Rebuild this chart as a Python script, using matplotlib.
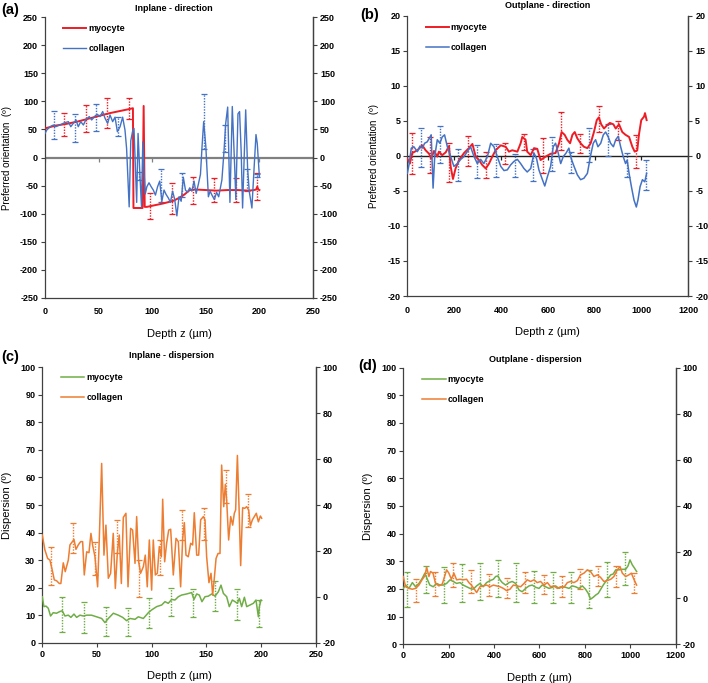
import matplotlib
matplotlib.use("Agg")
import matplotlib.pyplot as plt
import numpy as np

plt.rcParams["font.family"] = ["Liberation Sans", "DejaVu Sans"]
plt.rcParams["font.weight"] = "bold"
plt.rcParams["axes.unicode_minus"] = False

RED = "#EE1C25"
BLUE = "#4472C4"
GREEN = "#70AD47"
ORANGE = "#ED7D31"
AXC = "#404040"

# ---------------- (a) Inplane - direction ----------------
a_myo_x = [0, 2, 10, 20, 30, 40, 50, 60, 70, 80, 82, 82.5, 91, 92, 93, 95, 100, 110, 120,
           125, 130, 135, 140, 150, 160, 170, 180, 190, 195, 197, 198, 199, 200]
a_myo_y = [52, 53, 57, 60, 64, 69, 74, 79, 83, 87, 88, -90, -90, 92, -88, -88, -86, -82, -77,
           -72, -66, -58, -57, -58, -59, -58, -58, -59, -58, -57, -52, -57, -58]
a_col_x = [0, 1.6, 4.7, 7.8, 10, 12.4, 15, 17, 20, 21.8, 24, 26.4, 28.9, 31, 33.3, 35.8, 38.2,
           41.3, 43.5, 46.6, 48.8, 51.3, 53.8, 56, 58.4, 60.6, 63.1, 65.3, 67.5, 70, 72.4, 74.6,
           76.1, 78.5, 80, 81.6, 83, 85.5, 86.8, 88.5, 90, 91.2, 92.5, 93.5, 95, 97, 99, 101,
           103, 105, 107, 109, 111, 113, 115, 117, 119, 121, 123, 125, 127, 129, 131, 133, 135,
           137, 139, 141, 143, 145, 146.5, 148, 150, 152.4, 154, 156, 158, 160, 162, 163.5, 165,
           167, 168.5, 170.4, 172.5, 174.7, 177, 178, 180, 181.5, 183, 184.3, 187.2, 189, 190.5,
           193, 195, 196.8, 198, 200]
a_col_y = [43, 49, 55, 58, 55, 57, 59, 61, 63, 64, 55, 61, 67, 55, 64, 58, 68,
           73, 67, 74, 77, 73, 82, 70, 61, 76, 64, 72, 46, 55, 72, 49,
           16, -88, 30, 46, 52, -80, 43, -30, -88, 28, -30, -65, -52, -45, -52, -58,
           -67, -52, -42, -78, -58, -66, -72, -80, -60, -75, -104, -70, -78, -35, -58, -62, -54,
           -60, -42, -64, -48, -30, 20, 64, 20, -70, -60, -68, -75, -62, -70, -55, -40,
           12, 60, 90, -80, 91, -20, -75, 78, 82, 10, -90, 85, -20, -60,
           -90, -20, 41, 25, -35]
a_myo_ex = [18, 38, 58, 78, 98, 118, 138, 158, 178, 198]
a_myo_lo = [39, 45, 53, 69, -110, -100, -83, -80, -79, -75]
a_myo_hi = [80, 94, 107, 107, -64, -46, -34, -37, -37, -27]
a_col_ex = [8, 28, 48, 68, 88, 108, 128, 148, 168, 188, 198]
a_col_lo = [33, 27, 47, 38, -40, -80, -70, 15, 10, -60, -35]
a_col_hi = [83, 77, 95, 73, -25, -20, -27, 113, 58, -20, -30]

# ---------------- (b) Outplane - direction ----------------
b_myo_x = [0, 11, 21, 43, 64, 78, 93, 102, 114, 128, 135, 149, 164, 178, 185, 195, 206, 221,
           242, 263, 278, 292, 306, 320, 335, 349, 363, 377, 399, 420, 434, 448, 470, 484, 491,
           505, 512, 527, 541, 555, 569, 591, 612, 633, 648, 659, 672, 683, 695, 705, 715, 726,
           740, 754, 769, 783, 797, 809, 818, 828, 840, 854, 865, 880, 890, 904, 918, 932, 947,
           961, 971, 982, 989, 999, 1011, 1015, 1022]
b_myo_y = [-0.4, -1.1, 0.4, 0.8, 1.5, 0.8, 0.3, -0.4, 0.7, -0.1, 0.6, 0.1, 0.5, 1.4, -1.5, -3.3,
           -1.8, -0.6, 0.4, 1.1, 1.7, -0.1, -0.6, -1.3, -1.8, -1.1, -0.1, 0.8, 1.5, 1.3, 0.6, 0.8,
           0.6, 1.8, 2.7, 2.3, 0.6, 0.1, 1.1, 1.0, -0.6, -0.1, 0.3, 0.4, 1.8, 3.4, 3.0, 2.3, 1.8,
           3.0, 3.4, 2.5, 1.8, 1.3, 1.1, 1.8, 3.4, 5.1, 5.5, 4.5, 3.9, 4.4, 4.7, 4.5, 3.9, 4.5,
           3.4, 3.0, 2.7, 1.3, 0.6, 0.8, 3.0, 5.1, 5.6, 6.1, 5.1]
b_col_x = [0, 7, 17, 28, 43, 54, 64, 74, 85, 97, 102, 110, 117, 128, 139, 149, 159, 171, 185,
           199, 214, 228, 242, 256, 270, 285, 299, 313, 327, 342, 356, 370, 384, 399, 413, 427,
           441, 455, 470, 484, 498, 512, 527, 541, 552, 562, 577, 587, 598, 612, 623, 633, 643,
           655, 666, 678, 690, 700, 712, 726, 740, 754, 769, 783, 794, 804, 814, 826, 837, 847,
           858, 868, 880, 890, 901, 911, 922, 932, 939, 947, 957, 968, 978, 985, 994, 1004, 1014,
           1022]
b_col_y = [-2.5, -1.3, 1.1, 1.3, 0.6, 1.4, 1.1, 1.8, 2.0, 2.7, 3.0, -4.6, -0.1, 2.3, 1.8, 2.7,
           3.0, 1.3, -0.1, -1.5, -1.1, -0.5, -0.1, 0.6, 1.3, -0.1, -1.1, -0.5, -1.1, -0.1, 1.8,
           1.3, -0.1, -1.5, -2.1, -2.0, -1.3, -0.8, -0.5, -1.1, -1.8, -2.3, -1.8, 0.4, -0.4, -2.0,
           -3.4, -4.3, -3.0, -1.5, 1.3, 1.8, 0.6, -1.1, -0.1, 0.4, 1.1, -0.4, -1.5, -2.7, -3.4,
           -3.2, -2.5, 0.1, 1.8, 2.3, 1.3, 1.8, 3.0, 3.4, 2.7, 1.8, 1.3, 2.3, 2.8, 1.3, -0.1,
           -1.1, -0.6, -2.5, -4.4, -6.3, -7.3, -6.3, -4.4, -3.4, -3.7, -2.5]
b_myo_ex = [18, 98, 178, 258, 338, 418, 498, 578, 658, 738, 818, 898, 978]
b_myo_lo = [-2.6, -2.5, -3.7, -1.5, -3.2, -1.1, 0.8, -2.5, 0.8, 0.4, 3.4, 2.3, -1.8]
b_myo_hi = [3.3, 2.7, 1.8, 2.8, 0.6, 1.8, 3.1, 2.5, 6.2, 3.1, 7.1, 5.0, 3.0]
b_col_ex = [58, 138, 218, 298, 378, 458, 538, 618, 698, 778, 858, 938, 1018]
b_col_lo = [-1.6, -1.0, -3.6, -3.2, -3.0, -3.0, -3.6, -2.1, -2.5, -0.9, 0.0, -3.0, -4.9]
b_col_hi = [4.0, 4.2, 1.0, 1.6, 1.7, 0.3, 1.0, 2.7, 0.6, 4.0, 4.5, 0.4, -0.6]

# ---------------- (c) Inplane - dispersion ----------------
c_myo_x = [0, 1.5, 3.4, 5.5, 7.6, 10, 13, 16, 18.3, 20.7, 23.8, 26.2, 29, 31.4, 34.5, 37.5,
           40.6, 45, 49.7, 54.3, 57.3, 60.4, 65, 69.5, 73.5, 77.1, 80.2, 84.8, 87.8, 92.4, 97,
           100, 104.6, 109.2, 112.2, 115.2, 118.3, 121.3, 124.4, 127.4, 132, 136.6, 138.7, 141.2,
           143.6, 146, 148.8, 151.8, 154.9, 158, 161, 163.4, 165.6, 168.6, 171, 173.8, 176.2,
           178.4, 180.2, 182.3, 184.8, 186.9, 190, 193, 195.4, 197.6, 198.5, 200]
c_myo_y = [16.7, 13.1, 13.3, 12.5, 9.7, 10.9, 10.7, 11.3, 11.6, 9.7, 10.0, 9.2, 10.4, 9.2, 10.0,
           9.7, 10.0, 10.0, 9.4, 8.8, 7.3, 8.8, 10.7, 10.0, 9.2, 8.0, 8.8, 8.5, 9.4, 8.8, 10.9,
           11.9, 13.1, 13.7, 14.9, 14.3, 15.7, 15.5, 16.7, 17.3, 17.7, 18.2, 15.7, 17.7, 17.3,
           14.9, 16.7, 16.9, 17.7, 16.9, 18.5, 20.9, 17.9, 16.7, 13.1, 15.5, 14.9, 14.3, 16.1,
           13.1, 16.5, 13.1, 13.7, 14.3, 15.5, 9.4, 13.1, 15.5]
c_col_x = [0, 2.4, 4.9, 7, 9.1, 11, 13.1, 15.6, 17, 19.2, 21, 23.8, 25.3, 26.8, 29, 30.8, 32.9,
           35.1, 36.9, 38.4, 40.6, 42.7, 44.5, 46, 48.2, 50.6, 52.1, 54.3, 56.4, 58.2, 60.4, 62.5,
           64.9, 66.8, 68.6, 70.4, 72.3, 74.1, 76.5, 78.4, 80.8, 82.6, 84.8, 86.3, 88.1, 89.9,
           92.4, 94.2, 96, 97.9, 100, 101.5, 103.4, 105.2, 107, 108.9, 110.1, 111.9, 113.7, 115.6,
           117.4, 119.8, 122.3, 124.4, 126.5, 128.4, 129.9, 131.4, 133.5, 135.7, 137.5, 139,
           141.2, 143, 144.8, 147.3, 148.8, 150.3, 152.4, 154.3, 155.8, 157.3, 158.9, 160.7,
           162.5, 164, 165.9, 167.4, 168.6, 170.4, 172.3, 174.1, 175.6, 176.8, 178.4, 179.9,
           181.4, 183.2, 185.1, 186.9, 188.7, 190.3, 192.1, 193.9, 195.7, 197.6, 199.4, 200.6]
c_col_y = [39.1, 33.7, 30.6, 30, 26.4, 22.8, 22.5, 21.5, 21.5, 29, 25.8, 30, 35.5, 36.3, 37.5,
           33.9, 35.5, 36.7, 36.7, 24.6, 33, 32.7, 39.7, 35.5, 31.2, 20.3, 37.3, 65.1, 31.8, 42.7,
           23.4, 25.2, 39.7, 19.7, 32.4, 39.1, 21.5, 45.5, 47, 20.3, 41.5, 40.9, 28.8, 45.8, 29.4,
           25.2, 27.6, 31.8, 20.3, 37.3, 19.1, 37.3, 24.6, 25.2, 34.9, 31.2, 52.1, 29.4, 36.1,
           40.9, 41.2, 24.6, 37.9, 36.7, 20.3, 37.9, 43.6, 31.8, 31.2, 36.1, 35.5, 47.2, 31.8,
           31.8, 44.6, 45.8, 44.6, 31.2, 21.8, 25.2, 17.3, 23.4, 30.6, 32.4, 32.4, 64.5, 49.4,
           57.5, 51.8, 37.3, 45.8, 42.7, 47, 48.2, 68, 49.4, 28, 49, 48.8, 49.4, 48.2, 42.4, 44.6,
           45.8, 47, 43.9, 46, 45.2]
c_myo_ex = [18, 38, 58, 78, 98, 118, 138, 158, 178, 198]
c_myo_lo = [4.0, 3.4, 2.4, 2.4, 5.2, 9.7, 9.2, 11.6, 8.2, 5.8]
c_myo_hi = [16.7, 14.6, 13.0, 12.7, 16.1, 19.7, 19.4, 22.3, 19.4, 15.5]
c_col_ex = [8, 28, 48, 68, 88, 108, 128, 148, 168, 188]
c_col_lo = [20.9, 32.4, 24.6, 32.4, 16.7, 24.6, 37.3, 37.3, 50.6, 42.1]
c_col_hi = [34.9, 43.3, 36.7, 44.6, 30.0, 37.3, 48.2, 48.8, 62.7, 54.0]

# ---------------- (d) Outplane - dispersion ----------------
d_myo_x = [0, 10, 25, 40, 54, 69, 84, 95, 106, 117, 132, 147, 162, 176, 191, 206, 220, 235,
           250, 264, 279, 294, 308, 323, 338, 352, 367, 382, 397, 407, 417, 426, 436, 451, 466,
           480, 495, 510, 524, 539, 554, 568, 583, 598, 612, 627, 642, 657, 671, 686, 701, 715,
           730, 745, 759, 774, 789, 803, 815, 825, 837, 848, 859, 870, 881, 892, 903, 914, 925,
           936, 950, 965, 980, 990, 999, 1009, 1019, 1028]
d_myo_y = [20.2, 21.4, 20.2, 22.3, 20.8, 22, 23.9, 25.7, 23.5, 21.4, 20.8, 22, 21.4, 21.4, 22,
           23.3, 22.7, 22, 22.3, 21.4, 20.8, 20.2, 19.9, 21.1, 22, 20.8, 22.3, 23, 23.5, 24.5,
           24.7, 23.3, 22.3, 21.4, 22.3, 22.7, 22, 19.6, 19, 20.2, 21.1, 21.4, 20.6, 20.2, 21.4,
           20.8, 20.2, 20.6, 21.1, 20.2, 20.8, 20.6, 20.2, 21.1, 20.8, 20.2, 21.1, 19.9, 18.4,
           16.3, 17, 17.8, 18.4, 19.9, 21.4, 22.7, 23.9, 25.1, 25.4, 26.9, 26.9, 27.1, 27.1, 28.3,
           30.5, 28.7, 27.5, 26.3]
d_col_x = [0, 10, 25, 40, 54, 69, 84, 95, 103, 113, 120, 131, 142, 157, 172, 182, 191, 201,
           212, 223, 235, 250, 264, 279, 289, 300, 311, 323, 338, 352, 367, 382, 397, 411, 426,
           441, 455, 470, 485, 502, 517, 532, 546, 561, 576, 590, 605, 620, 635, 649, 664, 679,
           693, 708, 723, 737, 752, 767, 781, 796, 811, 825, 840, 855, 869, 884, 899, 914, 928,
           943, 955, 965, 980, 994, 1005, 1016, 1028]
d_col_y = [24.5, 20.8, 20.2, 19.9, 20.2, 21.4, 23.5, 24.7, 27.8, 24.5, 26.3, 25.7, 22, 21.1,
           21.8, 24.5, 26.9, 25.7, 23.5, 25.7, 23.3, 23.5, 23.3, 23.5, 22.3, 21.4, 20.2, 18.7,
           20.8, 21.1, 21.4, 20.8, 21.4, 21.1, 20.8, 20.2, 19.4, 19.9, 21.4, 21.1, 20.8, 22, 23.3,
           22.7, 23.3, 22.3, 22.7, 21.4, 22.3, 20.8, 21.1, 20.2, 20.8, 20.6, 22.3, 22.7, 22.3, 23,
           25.1, 25.7, 26.9, 26.3, 24.5, 25.1, 24.2, 22.7, 23, 23.5, 24.5, 26.9, 28.1, 25.7,
           24.5, 25.1, 25.7, 23.5, 21.4]
d_myo_ex = [18, 98, 178, 258, 338, 418, 498, 578, 658, 738, 818, 898, 978]
d_myo_lo = [13.6, 18.4, 14.8, 15.4, 16.0, 17.0, 15.4, 14.8, 14.8, 14.8, 13.0, 17.2, 21.4]
d_myo_hi = [26.3, 28.3, 27.8, 29.0, 29.3, 30.5, 29.3, 26.6, 26.3, 26.3, 26.9, 29.9, 33.3]
d_col_ex = [58, 138, 218, 298, 378, 458, 538, 618, 698, 778, 858, 938, 1018]
d_col_lo = [15.4, 17.5, 20.8, 18.4, 17.5, 16.9, 18.7, 18.2, 17.2, 19.9, 21.1, 20.6, 18.7]
d_col_hi = [23.5, 26.3, 29.5, 26.9, 25.3, 24.1, 26.3, 25.1, 24.7, 27.1, 28.3, 28.3, 25.7]


def err_bars(ax, x, lo, hi, color):
    lo = np.asarray(lo, dtype=float)
    hi = np.asarray(hi, dtype=float)
    eb = ax.errorbar(x, lo, yerr=[np.zeros_like(lo), hi - lo], fmt="none", ecolor=color,
                     elinewidth=1.0, capsize=2, capthick=0.9, zorder=3)
    eb[2][0].set_linestyle((0, (1, 1)))


def style(ax, xlim, xstep, ylim, ystep, ylim2, ystep2, ylabel, ysize, zero_axis):
    ax.set_xlim(*xlim)
    ax.set_ylim(*ylim)
    ax.set_xticks(np.arange(xlim[0], xlim[1] + 1, xstep))
    ax.set_yticks(np.arange(ylim[0], ylim[1] + 0.1, ystep))
    ax.spines["top"].set_visible(False)
    for s in ["left", "right", "bottom"]:
        ax.spines[s].set_color(AXC)
        ax.spines[s].set_linewidth(0.9)
    ax.tick_params(axis="y", direction="out", length=3, width=0.8, color=AXC,
                   labelsize=6.5, pad=2)
    if zero_axis:
        ax.tick_params(axis="x", length=0, labelsize=6.5, pad=7)
    else:
        ax.tick_params(axis="x", direction="out", length=3, width=0.8, color=AXC,
                       labelsize=6.5, pad=2)
    ax.set_xlabel("Depth z (µm)", fontsize=8, labelpad=9)
    ax.set_ylabel(ylabel, fontsize=ysize, labelpad=6)
    ax2 = ax.twinx()
    ax2.set_ylim(*ylim2)
    ax2.set_yticks(np.arange(ylim2[0], ylim2[1] + 0.1, ystep2))
    ax2.spines["top"].set_visible(False)
    ax2.spines["right"].set_color(AXC)
    ax2.spines["right"].set_linewidth(0.9)
    ax2.spines["left"].set_visible(False)
    ax2.spines["bottom"].set_visible(False)
    ax2.tick_params(axis="y", direction="out", length=3, width=0.8, color=AXC,
                    labelsize=6.5, pad=2)
    return ax2


def legend(ax, xy):
    ax.legend(loc="upper left", bbox_to_anchor=xy, frameon=False, fontsize=6.5,
              handlelength=2.6, handletextpad=0.2, labelspacing=1.25, borderpad=0,
              borderaxespad=0)


fig = plt.figure(figsize=(7.08, 6.83), dpi=100)

# (a)
ax = fig.add_axes([0.0636, 0.5641, 0.3785, 0.4105])
style(ax, (0, 250), 50, (-250, 250), 50, (-250, 250), 50, "Preferred orientation  (º)", 7, True)
ax.axhline(0, color="#808080", lw=1.6, zorder=1)
xt = ax.get_xticks()
ax.plot(xt, np.zeros_like(xt), ls="none", marker=3, ms=3, color="#808080", mew=0.9)
ax.plot(a_myo_x, a_myo_y, color=RED, lw=1.4, label="myocyte", zorder=4)
ax.plot(a_col_x, a_col_y, color=BLUE, lw=1.0, label="collagen", zorder=4)
err_bars(ax, a_myo_ex, a_myo_lo, a_myo_hi, RED)
err_bars(ax, a_col_ex, a_col_lo, a_col_hi, BLUE)
legend(ax, (0.067, 0.976))
ax.text(0.48, 1.033, "Inplane - direction", transform=ax.transAxes, ha="center",
        va="center", fontsize=6.5)

# (b)
ax = fig.add_axes([0.5753, 0.5666, 0.3969, 0.4104])
style(ax, (0, 1200), 200, (-20, 20), 5, (-20, 20), 5, "Preferred orientation  (º)", 7, True)
ax.axhline(0, color="#202020", lw=1.0, zorder=1)
xt = ax.get_xticks()
ax.plot(xt, np.zeros_like(xt), ls="none", marker=3, ms=3, color="#202020", mew=0.9)
ax.plot(b_myo_x, b_myo_y, color=RED, lw=1.4, label="myocyte", zorder=4)
ax.plot(b_col_x, b_col_y, color=BLUE, lw=1.1, label="collagen", zorder=4)
err_bars(ax, b_myo_ex, b_myo_lo, b_myo_hi, RED)
err_bars(ax, b_col_ex, b_col_lo, b_col_hi, BLUE)
legend(ax, (0.065, 0.974))
ax.text(0.5, 1.035, "Outplane - direction", transform=ax.transAxes, ha="center",
        va="center", fontsize=6.5)

# (c)
ax = fig.add_axes([0.0597, 0.0590, 0.3862, 0.4032])
style(ax, (0, 250), 50, (0, 100), 10, (-20, 100), 20, "Dispersion (º)", 8, False)
ax.plot(c_myo_x, c_myo_y, color=GREEN, lw=1.1, label="myocyte", zorder=4)
ax.plot(c_col_x, c_col_y, color=ORANGE, lw=1.1, label="collagen", zorder=4)
err_bars(ax, c_myo_ex, c_myo_lo, c_myo_hi, GREEN)
err_bars(ax, c_col_ex, c_col_lo, c_col_hi, ORANGE)
legend(ax, (0.068, 0.980))
ax.text(0.4725, 1.042, "Inplane - dispersion", transform=ax.transAxes, ha="center",
        va="center", fontsize=6.5)

# (d)
ax = fig.add_axes([0.5696, 0.0567, 0.3847, 0.4050])
style(ax, (0, 1200), 200, (0, 100), 10, (-20, 100), 20, "Dispersion (º)", 8, False)
ax.plot(d_myo_x, d_myo_y, color=GREEN, lw=1.1, label="myocyte", zorder=4)
ax.plot(d_col_x, d_col_y, color=ORANGE, lw=1.1, label="collagen", zorder=4)
err_bars(ax, d_myo_ex, d_myo_lo, d_myo_hi, GREEN)
err_bars(ax, d_col_ex, d_col_lo, d_col_hi, ORANGE)
legend(ax, (0.069, 0.974))
ax.text(0.485, 1.030, "Outplane - dispersion", transform=ax.transAxes, ha="center",
        va="center", fontsize=6.5)

# panel letters
fig.text(10 / 708, 1 - 10 / 683, "(a)", ha="center", va="center", fontsize=10.5)
fig.text(370 / 708, 1 - 15 / 683, "(b)", ha="center", va="center", fontsize=10.5)
fig.text(10 / 708, 1 - 357 / 683, "(c)", ha="center", va="center", fontsize=10.5)
fig.text(368 / 708, 1 - 366 / 683, "(d)", ha="center", va="center", fontsize=10.5)

fig.savefig("out.png", dpi=100)
